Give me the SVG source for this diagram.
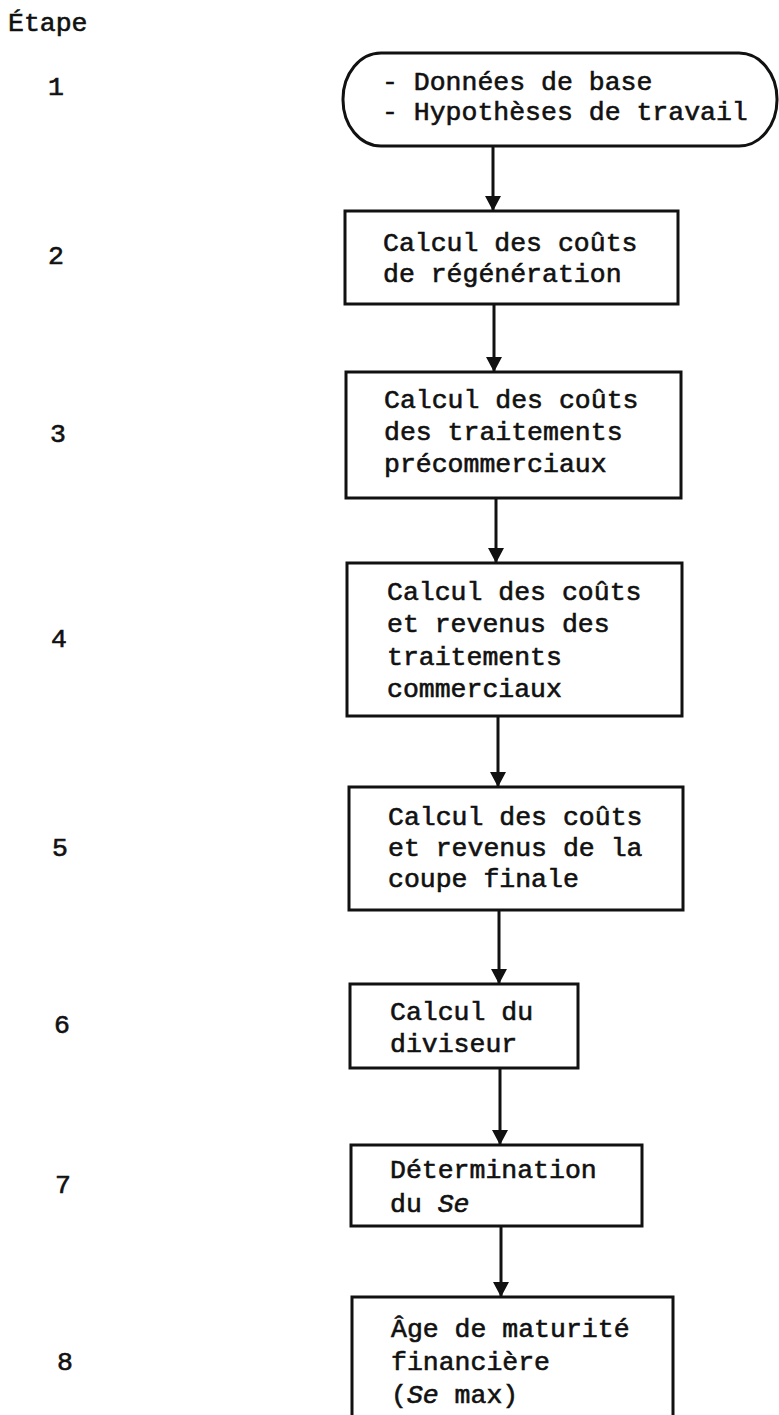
<svg xmlns="http://www.w3.org/2000/svg" width="779" height="1415" viewBox="0 0 779 1415">
  <style>
    text { font-family: "Liberation Mono", "DejaVu Sans Mono", monospace; font-size: 26.5px; fill: #111; stroke: #111; stroke-width: 0.6px; }
    .box { fill: #fff; stroke: #111; stroke-width: 3; }
    .link { fill: none; stroke: #111; stroke-width: 3; }
    .se { font-style: italic; }
  </style>
  <defs>
    <marker id="arrow" markerUnits="userSpaceOnUse" markerWidth="16" markerHeight="16" refX="15" refY="8" orient="auto">
      <path d="M0,0 L15,8 L0,16 Z" fill="#111"/>
    </marker>
  </defs>

  <rect width="779" height="1415" fill="#fff"/>

  <!-- Step column -->
  <g id="step-labels">
    <text x="8" y="31">Étape</text>
    <text x="48" y="95">1</text>
    <text x="48" y="264">2</text>
    <text x="50" y="442">3</text>
    <text x="51" y="647">4</text>
    <text x="52" y="856">5</text>
    <text x="54" y="1033">6</text>
    <text x="55" y="1193">7</text>
    <text x="57" y="1370">8</text>
  </g>

  <!-- Connectors -->
  <g id="connectors">
    <line class="link" x1="493" y1="147" x2="493" y2="211" marker-end="url(#arrow)"/>
    <line class="link" x1="494" y1="304" x2="494" y2="372" marker-end="url(#arrow)"/>
    <line class="link" x1="496" y1="498" x2="496" y2="563" marker-end="url(#arrow)"/>
    <line class="link" x1="498" y1="716" x2="498" y2="787" marker-end="url(#arrow)"/>
    <line class="link" x1="499" y1="910" x2="499" y2="984" marker-end="url(#arrow)"/>
    <line class="link" x1="500" y1="1068" x2="500" y2="1145" marker-end="url(#arrow)"/>
    <line class="link" x1="501" y1="1226" x2="501" y2="1297" marker-end="url(#arrow)"/>
  </g>

  <!-- Step 1: start terminal -->
  <g id="node-1">
    <rect class="box" x="343" y="53" width="434" height="93" rx="38" ry="46"/>
    <text x="382" y="90">- Données de base</text>
    <text x="382" y="120">- Hypothèses de travail</text>
  </g>

  <g id="node-2">
    <rect class="box" x="345" y="211" width="333" height="93"/>
    <text x="383" y="251">Calcul des coûts</text>
    <text x="383" y="282">de régénération</text>
  </g>

  <g id="node-3">
    <rect class="box" x="346" y="372" width="335" height="126"/>
    <text x="384" y="408">Calcul des coûts</text>
    <text x="384" y="440">des traitements</text>
    <text x="384" y="472">précommerciaux</text>
  </g>

  <g id="node-4">
    <rect class="box" x="347" y="563" width="335" height="153"/>
    <text x="387" y="600">Calcul des coûts</text>
    <text x="387" y="632">et revenus des</text>
    <text x="387" y="665">traitements</text>
    <text x="387" y="697">commerciaux</text>
  </g>

  <g id="node-5">
    <rect class="box" x="349" y="787" width="334" height="123"/>
    <text x="388" y="825">Calcul des coûts</text>
    <text x="388" y="856">et revenus de la</text>
    <text x="388" y="887">coupe finale</text>
  </g>

  <g id="node-6">
    <rect class="box" x="350" y="984" width="228" height="84"/>
    <text x="390" y="1020">Calcul du</text>
    <text x="390" y="1052">diviseur</text>
  </g>

  <g id="node-7">
    <rect class="box" x="351" y="1145" width="291" height="81"/>
    <text x="390" y="1178">Détermination</text>
    <text x="390" y="1212">du <tspan class="se">Se</tspan></text>
  </g>

  <g id="node-8">
    <rect class="box" x="352" y="1297" width="321" height="140"/>
    <text x="391" y="1337">Âge de maturité</text>
    <text x="391" y="1370">financière</text>
    <text x="391" y="1403">(<tspan class="se">Se</tspan> max)</text>
  </g>
</svg>
